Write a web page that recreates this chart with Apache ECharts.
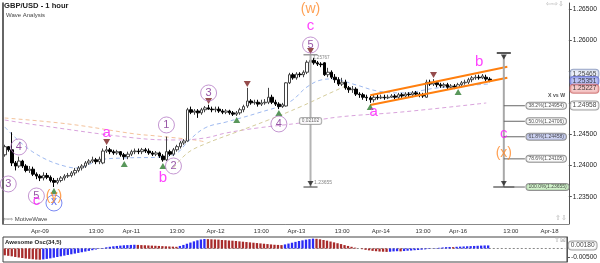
<!DOCTYPE html>
<html><head><meta charset="utf-8">
<script src="https://cdn.jsdelivr.net/npm/echarts@6/dist/echarts.min.js"></script>
<style>html,body{margin:0;padding:0;background:#fff}#c{width:600px;height:263px}</style>
</head><body><div id="c"></div>
<script>
// ---------- data ----------
const slots = 161;
const tickIdx = [10,26,36,49,60,73,83,96,107,119,129,144,155];
const tickText = ['Apr-09','13:00','Apr-11','13:00','Apr-12','13:00','Apr-13','13:00','Apr-14','13:00','Apr-16','13:00','Apr-18'];
const priceTickMarks = [1.235,1.24,1.245,1.25,1.255,1.26,1.265];
const priceTickLabels = [1.235,1.24,1.245,1.26,1.265];
// [open, close, low, high]
const candles = [
[1.2417,1.2430,1.2414,1.2433],[1.2430,1.2425,1.2422,1.2431],[1.2425,1.2404,1.2399,1.2453],[1.2404,1.2399,1.2392,1.2407],
[1.2399,1.2407,1.2396,1.2414],[1.2407,1.2399,1.2396,1.2409],[1.2399,1.2392,1.2389,1.2402],[1.2392,1.2394,1.2388,1.2399],
[1.2394,1.2386,1.2383,1.2398],[1.2386,1.2383,1.2378,1.2389],[1.2383,1.2380,1.2375,1.2386],[1.2380,1.2384,1.2376,1.2389],
[1.2384,1.2381,1.2378,1.2388],[1.2381,1.2376,1.2373,1.2384],[1.2376,1.2373,1.23655,1.2380],[1.2373,1.2376,1.2370,1.2380],
[1.2376,1.2380,1.2373,1.2383],[1.2380,1.2383,1.2376,1.2386],[1.2383,1.2384,1.2380,1.2388],[1.2384,1.2388,1.2381,1.2391],
[1.2388,1.2392,1.2384,1.2396],[1.2392,1.2396,1.2389,1.2399],[1.2396,1.2399,1.2392,1.2402],[1.2399,1.2404,1.2396,1.2407],
[1.2404,1.2407,1.2401,1.2410],[1.2407,1.2409,1.2404,1.2414],[1.2409,1.2406,1.2402,1.2412],[1.2406,1.2410,1.2402,1.2414],
[1.2404,1.2423,1.2402,1.2427],[1.2423,1.2425,1.2420,1.2431],[1.2425,1.2422,1.2418,1.2428],[1.2422,1.2420,1.2417,1.2425],
[1.2420,1.2422,1.2417,1.2425],[1.2422,1.2417,1.2414,1.2423],[1.2417,1.2414,1.2409,1.2420],[1.2414,1.2418,1.2410,1.2422],
[1.2418,1.2422,1.2415,1.2425],[1.2422,1.2423,1.2418,1.2427],[1.2423,1.2422,1.2418,1.2427],[1.2422,1.2425,1.2418,1.2428],
[1.2425,1.2423,1.2420,1.2428],[1.2423,1.2420,1.2417,1.2427],[1.2420,1.2418,1.2415,1.2423],[1.2418,1.2420,1.2415,1.2423],
[1.2420,1.2415,1.2412,1.2422],[1.2415,1.2409,1.2406,1.2418],[1.2409,1.2422,1.2407,1.2446],[1.2422,1.2418,1.2415,1.2425],
[1.2418,1.2425,1.2415,1.2428],[1.2425,1.2430,1.2422,1.2433],[1.2430,1.2436,1.2427,1.2439],[1.2436,1.2439,1.2433,1.2442],
[1.2439,1.2489,1.2438,1.2492],[1.2489,1.2485,1.2482,1.2494],[1.2485,1.2487,1.2481,1.2490],[1.2487,1.2484,1.2476,1.2490],
[1.2484,1.2489,1.2481,1.2492],[1.2489,1.2492,1.2485,1.2495],[1.2492,1.2490,1.2489,1.2497],[1.2490,1.2489,1.2485,1.2494],
[1.2489,1.2490,1.2485,1.2494],[1.2490,1.2487,1.2484,1.2494],[1.2487,1.2485,1.2482,1.2490],[1.2485,1.2487,1.2482,1.2490],
[1.2487,1.2484,1.2481,1.2489],[1.2484,1.2482,1.2479,1.2487],[1.2482,1.2484,1.2479,1.2487],[1.2484,1.2489,1.2481,1.2492],
[1.2489,1.2494,1.2485,1.2497],[1.2495,1.2503,1.2492,1.2524],[1.2503,1.2500,1.2497,1.2506],[1.2500,1.2501,1.2497,1.2505],
[1.2501,1.2498,1.2494,1.2505],[1.2498,1.2500,1.2495,1.2505],[1.2500,1.2501,1.2497,1.2506],[1.2501,1.2509,1.2498,1.2524],
[1.2509,1.2501,1.2498,1.2513],[1.2501,1.2498,1.2495,1.2505],[1.2498,1.2494,1.2490,1.2501],[1.2494,1.2497,1.2492,1.2500],
[1.2495,1.2532,1.2494,1.2533],[1.2532,1.2545,1.2530,1.2548],[1.2545,1.2540,1.2537,1.2548],[1.2540,1.2546,1.2537,1.2549],
[1.2546,1.2545,1.2541,1.2549],[1.2545,1.2549,1.2541,1.2552],[1.2549,1.2565,1.2546,1.2568],[1.2565,1.2568,1.2564,1.25767],
[1.2568,1.2564,1.2561,1.2572],[1.2564,1.2562,1.2559,1.2567],[1.2562,1.2561,1.2557,1.2565],[1.2564,1.2545,1.2543,1.2565],
[1.2545,1.2549,1.2541,1.2556],[1.2549,1.2541,1.2538,1.2552],[1.2541,1.2537,1.2532,1.2546],[1.2537,1.2530,1.2527,1.2541],
[1.2530,1.2533,1.2527,1.2540],[1.2533,1.2524,1.2521,1.2537],[1.2524,1.2521,1.2516,1.2527],[1.2521,1.2522,1.2516,1.2527],
[1.2522,1.2514,1.2511,1.2525],[1.2514,1.2513,1.2508,1.2517],[1.2513,1.2509,1.2505,1.2516],[1.2509,1.2508,1.2503,1.2513],
[1.2508,1.2505,1.2500,1.2511],[1.2505,1.2509,1.2501,1.2513],[1.2509,1.2508,1.2505,1.2513],[1.2508,1.2509,1.2506,1.2513],
[1.2509,1.2508,1.2505,1.2513],[1.2508,1.2509,1.2506,1.2513],[1.2509,1.2511,1.2508,1.2514],[1.2511,1.2509,1.2506,1.2514],
[1.2509,1.2513,1.2506,1.2516],[1.2513,1.2511,1.2508,1.2516],[1.2511,1.2514,1.2509,1.2517],[1.2514,1.2513,1.2509,1.2517],
[1.2513,1.2516,1.2509,1.2519],[1.2516,1.2514,1.2511,1.2519],[1.2514,1.2513,1.2509,1.2517],[1.2513,1.2511,1.2508,1.2516],
[1.2509,1.2533,1.2508,1.2537],[1.2533,1.2530,1.2527,1.2537],[1.2530,1.2532,1.2527,1.2538],[1.2532,1.2529,1.2525,1.2535],
[1.2529,1.2527,1.2524,1.2532],[1.2527,1.2529,1.2524,1.2532],[1.2529,1.2525,1.2522,1.2532],[1.2525,1.2527,1.2524,1.2530],
[1.2527,1.2525,1.2522,1.2530],[1.2525,1.2529,1.2524,1.2532],[1.2529,1.2532,1.2525,1.2535],[1.2532,1.2533,1.2529,1.2537],
[1.2533,1.2537,1.2530,1.2540],[1.2537,1.2540,1.2533,1.2543],[1.2540,1.2541,1.2537,1.2545],[1.2541,1.2540,1.2537,1.2545],
[1.2540,1.2543,1.2538,1.2546],[1.2541,1.2538,1.2535,1.2545],[1.2538,1.2535,1.2533,1.2541]
];
const ao = [
-0.0040,-0.0043,-0.0046,-0.0050,-0.0053,-0.0056,-0.0059,-0.0061,-0.0063,-0.0065,-0.0066,
-0.0064,-0.0061,-0.0058,-0.0054,-0.0050,-0.0046,-0.0042,-0.0038,-0.0034,-0.0030,-0.0026,-0.0022,-0.0018,-0.0014,-0.0010,-0.0006,
-0.0002,0.0003,0.0007,0.0010,0.0013,0.0015,0.0017,0.0019,0.0020,0.0021,0.0022,
0.0021,0.0020,0.0019,0.0018,0.0017,0.0016,0.0015,0.0014,0.0013,0.0012,0.0011,0.0010,
0.0015,0.0021,0.0028,0.0035,0.0042,0.0048,0.0053,
0.0056,0.0055,0.0054,0.0053,0.0052,0.0050,0.0049,0.0047,0.0046,0.0044,0.0042,0.0040,0.0038,0.0036,0.0034,0.0032,0.0030,0.0028,0.0026,0.0024,0.0022,0.0021,0.0020,
0.0024,0.0029,0.0034,0.0039,0.0044,0.0048,0.0052,0.0055,0.0058,
0.0057,0.0054,0.0050,0.0046,0.0041,0.0036,0.0031,0.0026,0.0020,0.0015,0.0010,0.0005,
0.0000,-0.0004,-0.0008,-0.0011,-0.0014,-0.0016,-0.0018,-0.0019,-0.0020,
-0.0019,-0.0017,-0.0016,-0.0017,-0.0015,-0.0013,-0.0012,-0.0010,-0.0009,-0.0007,-0.0005,-0.0003,-0.0001,
0.0002,0.0004,0.0006,0.0008,0.0009,0.0008,0.0010,0.0011,0.0012,0.0013,0.0014,0.0015,0.0016,0.0017,0.0018,0.0018
];
const aoLast = 0.00180;
const maBlue = [[0,1.24615],[8,1.24215],[18,1.23975],[21,1.23959],[27,1.24087],[34,1.24119],[45,1.24135],[49,1.24199],[52,1.24375],[57,1.24600],[63,1.24694],[72,1.24838],[81,1.25014],[86,1.25254],[90,1.25366],[93,1.25382],[100,1.25286],[106,1.25190],[113,1.25158],[123,1.25238],[138,1.25302]];
const maPeach = [[0,1.24758],[18,1.24663],[37,1.24504],[43,1.24472],[54,1.24407],[57,1.24376]];
const maPink = [[0,1.24726],[9,1.24647],[37,1.24439],[49,1.24407],[57,1.24439],[63,1.24519],[72,1.24599],[84,1.24678],[95,1.24774],[113,1.24854],[137,1.24998]];
const maKhaki = [[48,1.23959],[52,1.24199],[57,1.24343],[66,1.24535],[75,1.24726],[84,1.24934],[92,1.25142],[97,1.25270]];
const waveLabels = [
 [87,1.26484,'(w)','orange'],[87,1.26197,'c','magenta'],[87,1.25925,'5','circle'],
 [58,1.25158,'3','circle'],[46,1.24647,'1','circle'],[48,1.23991,'2','circle'],
 [45,1.23768,'b','magenta'],[29,1.24487,'a','magenta'],[4,1.24295,'4','circle'],
 [1,1.23704,'3','circle'],[9,1.23512,'5','circle'],[14,1.23496,'(y)','orange'],
 [9,1.23400,'c','magenta'],[14,1.23400,'x','blue'],[78,1.24663,'4','circle'],
 [105,1.24822,'a','magenta'],[135,1.25621,'b','magenta'],[142,1.24471,'c','magenta'],
 [142,1.24183,'(x)','orange']
];
const highMarks = [[29,1.24375],[58,1.25030],[69,1.25302],[87,1.25829],[122,1.25446]];
const lowMarks = [[14,1.23592],[34,1.24023],[45,1.23991],[66,1.24726],[78,1.24838],[104,1.24934],[129,1.25174]];
const channelUpper = [[104,1.25121],[143,1.25578]];
const channelLower = [[104,1.24965],[143,1.25402]];
const waveTop = 1.25767, waveBottom = 1.23655;
const measureText = '0.02102';
const fibLevels = [38.2,50.0,61.8,78.6,100.0];
const fibPrices = [1.24954,1.24706,1.24458,1.24105,1.23655];
const priceTags = [1.25465,1.25351,1.25227,1.24958];

// ---------- chart ----------
const FONT = 'Liberation Sans, Arial, Helvetica, sans-serif';
const cats = Array.from({length: slots}, (_, i) => String(i));
const lastSlot = slots - 1;
const chart = echarts.init(document.getElementById('c'), null, {width:600, height:263});

function seg(points, color, width, z) {
  return {type:'line', xAxisIndex:0, yAxisIndex:0, data:points, symbol:'none', silent:true,
    lineStyle:{color, width}, z: z || 3, animation:false};
}
function ma(points, color) {
  return {type:'line', xAxisIndex:0, yAxisIndex:0, data:points, symbol:'none', smooth:0.4, silent:true,
    lineStyle:{color, width:1, type:[4,3]}, z:1};
}
const tagStyles = [
  {bg:'#e6ebf7', bd:'#8090b8'},
  {bg:'#a9b1f2', bd:'#5660c8'},
  {bg:'#f2bcbc', bd:'#c86060'},
  {bg:'#ffffff', bd:'#888888'}
];
const fibBg = ['#ffffff','#ffffff','#c3cbf3','#ffffff','#c6efbe'];
const tagLabel = (txt, bg, bd) => ({show:true, position:'right', distance:3, formatter: txt, fontSize:6.6, fontFamily:FONT, color:'#111',
  backgroundColor:bg, borderColor:bd, borderWidth:1, borderRadius:3, padding:[1,2,0,2]});

const labelSeries = (kind, style) => ({
  type:'scatter', xAxisIndex:0, yAxisIndex:0, silent:true, z:6,
  data: waveLabels.filter(d => d[3] === kind).map(d => ({value:[d[0], d[1]], label:{formatter:d[2]}})),
  ...style
});

const series = [
  ma(maPeach, '#f4c39c'),
  ma(maPink, '#d9a3dc'),
  ma(maKhaki, '#d5cd9c'),
  ma(maBlue, '#9fbaf0'),
  {type:'candlestick', xAxisIndex:0, yAxisIndex:0, data:candles, barWidth:3, z:2,
   itemStyle:{color:'#ffffff', color0:'#000000', borderColor:'#444444', borderColor0:'#000000', borderWidth:1}},
  seg(channelUpper, '#ff7f0e', 2),
  seg(channelLower, '#ff7f0e', 2),
  seg([[87,waveTop],[87,waveBottom]], '#b4b4b4', 2),
  seg([[85,waveTop],[89,waveTop]], '#999999', 1.5),
  seg([[85,waveBottom],[89,waveBottom]], '#333333', 1),
  seg([[142,waveTop],[142,waveBottom]], '#a8a8a8', 2),
  seg([[140,1.25797],[144,1.25797]], '#222222', 1.5),
  seg([[139,waveBottom],[145,waveBottom]], '#222222', 1.2),
  ...fibPrices.map(p => seg([[142,p],[148,p]], '#666666', 1)),
  // price tags on the right axis
  {type:'scatter', xAxisIndex:0, yAxisIndex:0, silent:true, z:8, clip:false, symbolSize:1, itemStyle:{color:'rgba(0,0,0,0)'},
   data: priceTags.map((v,k) => ({value:[lastSlot, v], label: tagLabel(v.toFixed(5), tagStyles[k].bg, tagStyles[k].bd)}))},
  // fib labels
  {type:'scatter', xAxisIndex:0, yAxisIndex:0, silent:true, z:7, symbolSize:1, itemStyle:{color:'rgba(0,0,0,0)'},
   data: fibPrices.map((p,k) => ({value:[148,p], label:{show:true, position:'right', distance:1,
     formatter: fibLevels[k].toFixed(1) + '%(' + p.toFixed(5) + ')', fontSize:5, fontFamily:FONT, color:'#222',
     backgroundColor: fibBg[k], borderColor:'#777', borderWidth:1, borderRadius:3, padding:[1,2,0,2]}}))},
  {type:'scatter', xAxisIndex:0, yAxisIndex:0, silent:true, z:7, symbolSize:1, itemStyle:{color:'rgba(0,0,0,0)'},
   data:[{value:[157,1.25110], label:{show:true, position:'inside', formatter:'X vs W', fontSize:5.2, fontWeight:'bold', color:'#222', fontFamily:FONT}}]},
  // measurement texts
  {type:'scatter', xAxisIndex:0, yAxisIndex:0, silent:true, z:7, symbolSize:1, itemStyle:{color:'rgba(0,0,0,0)'},
   data:[
     {value:[87,(waveTop+waveBottom)/2], label:{show:true, position:'inside', formatter:measureText, fontSize:4.8, color:'#444', fontFamily:FONT,
       backgroundColor:'#ffffff', borderColor:'#999', borderWidth:1, borderRadius:2, padding:[1,2,0,2]}},
     {value:[87,waveTop], label:{show:true, position:'right', distance:2, offset:[0,3], formatter:waveTop.toFixed(5), fontSize:4.6, color:'#666', fontFamily:FONT}},
     {value:[87,waveBottom], label:{show:true, position:'right', distance:3, offset:[0,-4], formatter:waveBottom.toFixed(5), fontSize:5, color:'#666', fontFamily:FONT}}
   ]},
  // swing markers
  {type:'scatter', xAxisIndex:0, yAxisIndex:0, silent:true, z:5, symbol:'triangle', symbolRotate:180, symbolSize:[7,6],
   itemStyle:{color:'#7a1f1f'}, data: highMarks},
  {type:'scatter', xAxisIndex:0, yAxisIndex:0, silent:true, z:5, symbol:'triangle', symbolSize:[7,6],
   itemStyle:{color:'#2f7d32'}, data: lowMarks},
  {type:'scatter', xAxisIndex:0, yAxisIndex:0, silent:true, z:5, symbol:'triangle', symbolRotate:180, symbolSize:[6,5],
   itemStyle:{color:'#222'}, data: [[87,1.2371],[142,1.2371],[142,1.25733]]},
  // wave labels
  labelSeries('circle', {symbol:'circle', symbolSize:16, itemStyle:{color:'rgba(255,255,255,0)', borderColor:'#b57cc6', borderWidth:1},
    label:{show:true, position:'inside', color:'#7d2c90', fontSize:11, fontFamily:FONT}}),
  labelSeries('blue', {symbol:'circle', symbolSize:16, itemStyle:{color:'rgba(255,255,255,0)', borderColor:'#5a6cf0', borderWidth:1},
    label:{show:true, position:'inside', color:'#3a4ef0', fontSize:12, fontFamily:FONT, offset:[0,-1]}}),
  labelSeries('magenta', {symbolSize:1, itemStyle:{color:'rgba(0,0,0,0)'},
    label:{show:true, position:'inside', color:'#ff14ff', fontSize:15, fontFamily:FONT, offset:[0,-2]}}),
  labelSeries('orange', {symbolSize:1, itemStyle:{color:'rgba(0,0,0,0)'},
    label:{show:true, position:'inside', color:'#ff8a2a', fontSize:14, fontFamily:FONT, offset:[0,-1]}}),
  // awesome oscillator
  {type:'line', xAxisIndex:1, yAxisIndex:1, data:[[0,0],[lastSlot,0]], symbol:'none', silent:true, z:1,
   lineStyle:{color:'#888', width:1, type:[2,2]}},
  {type:'bar', xAxisIndex:1, yAxisIndex:1, barWidth:2.3, silent:true, z:2,
   data: ao.map((v,i) => ({value:v, itemStyle:{color: (i > 0 && v >= ao[i-1]) ? '#2b2bf5' : '#a82b2b'}}))},
  {type:'scatter', xAxisIndex:1, yAxisIndex:1, silent:true, z:8, clip:false, symbolSize:1, itemStyle:{color:'rgba(0,0,0,0)'},
   data:[{value:[lastSlot, aoLast], label: tagLabel(aoLast.toFixed(5), '#ffffff', '#888888')}]}
];

const option = {
  animation:false,
  backgroundColor:'#ffffff',
  textStyle:{fontFamily:FONT},
  title:[
    {text:'GBP/USD - 1 hour', left:4, top:2, padding:0, textStyle:{fontSize:7.6, fontWeight:'bold', color:'#222', fontFamily:FONT}},
    {text:'Wave Analysis', left:6, top:12, padding:0, textStyle:{fontSize:6, fontWeight:'normal', color:'#444', fontFamily:FONT}},
    {text:'⇦⇨⇩', left:546, top:1, padding:0, textStyle:{fontSize:7, fontWeight:'normal', color:'#b0b0b0'}},
    {text:'⇦⇨ MotiveWave', left:3, top:216, padding:0, textStyle:{fontSize:6, fontWeight:'normal', color:'#444', fontFamily:FONT}},
    {text:'⇧⇩', left:555, top:215, padding:0, textStyle:{fontSize:7, fontWeight:'normal', color:'#b0b0b0'}},
    {text:'Awesome Osc(34,5)', left:5, top:239, padding:0, textStyle:{fontSize:6, fontWeight:'bold', color:'#222', fontFamily:FONT}},
    {text:'⇧⊠', left:554, top:237, padding:0, textStyle:{fontSize:7, fontWeight:'normal', color:'#b0b0b0'}}
  ],
  grid:[
    {left:3, right:31, top:3, bottom:39},
    {left:3, right:31, top:237, bottom:1, show:true, borderColor:'#444', borderWidth:1, backgroundColor:'transparent'}
  ],
  xAxis:[
    {type:'category', gridIndex:0, data:cats, boundaryGap:true,
     axisLine:{lineStyle:{color:'#888'}},
     axisTick:{alignWithLabel:true, length:3, interval:(i) => tickIdx.includes(i), lineStyle:{color:'#666'}},
     axisLabel:{interval:(i) => tickIdx.includes(i), formatter:(v) => tickText[tickIdx.indexOf(Number(v))] || '',
       fontSize:6, color:'#333', margin:4, fontFamily:FONT},
     splitLine:{show:false}},
    {type:'category', gridIndex:1, data:cats, boundaryGap:true,
     axisLine:{show:false}, axisTick:{show:false}, axisLabel:{show:false}, splitLine:{show:false}}
  ],
  yAxis:[
    {type:'value', gridIndex:0, position:'right', min:1.23064, max:1.26596,
     splitLine:{show:false},
     axisLine:{show:true, lineStyle:{color:'#555'}},
     axisTick:{show:true, length:3, customValues:priceTickMarks, lineStyle:{color:'#555'}},
     axisLabel:{customValues:priceTickLabels, formatter:(v) => v.toFixed(5), fontSize:6.7, color:'#222', margin:4, fontFamily:FONT}},
    {type:'value', gridIndex:1, position:'right', min:-0.00794, max:0.00676,
     splitLine:{show:false},
     axisLine:{show:true, lineStyle:{color:'#555'}},
     axisTick:{show:true, length:3, customValues:[-0.005], lineStyle:{color:'#555'}},
     axisLabel:{customValues:[-0.005], formatter:(v) => v.toFixed(5), fontSize:6.6, color:'#222', margin:4, fontFamily:FONT}},
    {type:'value', gridIndex:0, position:'left', min:0, max:1,
     axisLine:{show:true, lineStyle:{color:'#333', width:1.5}}, axisTick:{show:false}, axisLabel:{show:false}, splitLine:{show:false}}
  ],
  series
};
chart.setOption(option);
</script>
</body></html>
